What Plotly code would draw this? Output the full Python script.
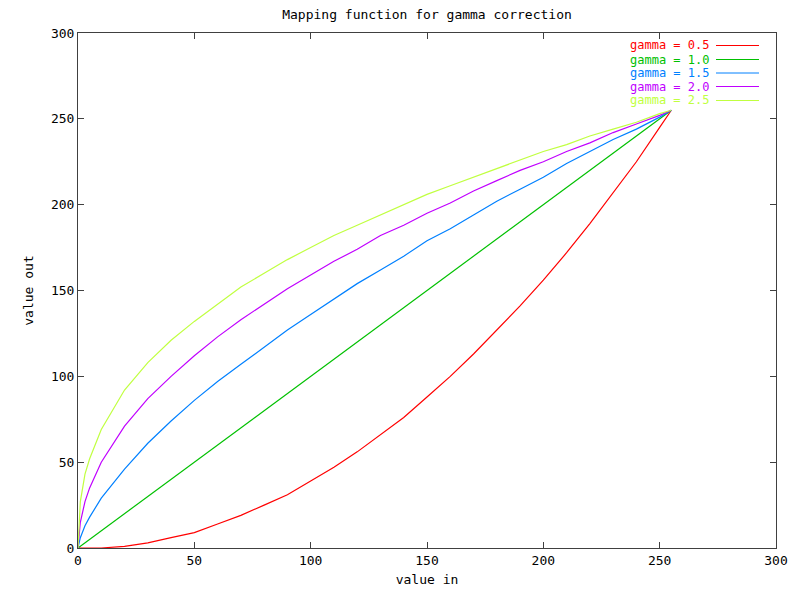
import plotly.graph_objects as go

# values (value in -> value out)
x_in = [0, 1, 3, 5, 10, 20, 30, 40, 50, 60, 70, 80, 90, 100, 110, 120, 130,
        140, 150, 160, 170, 180, 190, 200, 210, 220, 230, 240, 250, 255]

gamma_05 = [0, 0, 0, 0, 0, 1, 3, 6, 9, 14, 19, 25, 31, 39, 47, 56, 66,
            76, 88, 100, 113, 127, 141, 156, 172, 189, 207, 225, 245, 255]
gamma_10 = [0, 1, 3, 5, 10, 20, 30, 40, 50, 60, 70, 80, 90, 100, 110, 120, 130,
            140, 150, 160, 170, 180, 190, 200, 210, 220, 230, 240, 250, 255]
gamma_15 = [0, 6, 13, 18, 29, 46, 61, 74, 86, 97, 107, 117, 127, 136, 145, 154, 162,
            170, 179, 186, 194, 202, 209, 216, 224, 231, 238, 244, 251, 255]
gamma_20 = [0, 15, 27, 35, 50, 71, 87, 100, 112, 123, 133, 142, 151, 159, 167, 174, 182,
            188, 195, 201, 208, 214, 220, 225, 231, 236, 242, 247, 252, 255]
gamma_25 = [0, 27, 43, 52, 69, 92, 108, 121, 132, 142, 152, 160, 168, 175, 182, 188, 194,
            200, 206, 211, 216, 221, 226, 231, 235, 240, 244, 248, 253, 255]

series_names = ["gamma = 0.5", "gamma = 1.0", "gamma = 1.5", "gamma = 2.0", "gamma = 2.5"]
series_values = [gamma_05, gamma_10, gamma_15, gamma_20, gamma_25]
colors = ["#ff0000", "#00c000", "#0080ff", "#c000ff", "#c0ff40"]

x_ticks = [0, 50, 100, 150, 200, 250, 300]
y_ticks = [0, 50, 100, 150, 200, 250, 300]

FONT = "DejaVu Sans Mono"
FS = 13
FS_LEG = 12

fig = go.Figure()
for name, vals, col in zip(series_names, series_values, colors):
    fig.add_trace(go.Scatter(x=x_in, y=vals, mode="lines", name=name,
                             line=dict(color=col, width=1.2),
                             showlegend=False))

# the page body margin is removed below, so the figure fills the window
W, H = 793, 594
ml, mr, mt, mb = 78, 17, 33, 46
pw, ph = W - ml - mr, H - mt - mb


def px_x(p):
    return (p - ml) / pw


def px_y(p):
    return 1 - (p - mt) / ph


row_px = [45.5, 59.5, 73, 86.5, 100.5]
for name, col, ry in zip(series_names, colors, row_px):
    yp = px_y(ry)
    fig.add_annotation(x=px_x(711), y=yp, xref="paper", yref="paper",
                       text=name, showarrow=False, xanchor="right", yanchor="middle",
                       font=dict(family=FONT, size=FS_LEG, color=col))
    fig.add_shape(type="line", xref="paper", yref="paper",
                  x0=px_x(716), x1=px_x(759), y0=yp, y1=yp,
                  line=dict(color=col, width=1))

axis_common = dict(showline=True, linecolor="#404040", linewidth=1, mirror="ticks",
                   ticks="inside", ticklen=6, tickcolor="#404040", showgrid=False,
                   zeroline=False, automargin=False,
                   tickfont=dict(family=FONT, size=FS, color="black"))

fig.update_layout(
    width=W, height=H,
    margin=dict(l=ml, r=mr, t=mt, b=mb, autoexpand=False),
    paper_bgcolor="white", plot_bgcolor="white",
    title=dict(text="Mapping function for gamma correction", x=(ml + pw / 2) / W,
               xanchor="center", y=1 - 14 / H, yanchor="middle",
               font=dict(family=FONT, size=FS, color="black")),
    xaxis=dict(range=[0, 300], tickvals=x_ticks, ticktext=[str(v) for v in x_ticks],
               title=dict(text="value in", font=dict(family=FONT, size=FS, color="black"),
                          standoff=8),
               **axis_common),
    yaxis=dict(range=[0, 300], tickvals=y_ticks, ticktext=[str(v) for v in y_ticks],
               title=dict(text="value out", font=dict(family=FONT, size=FS, color="black"),
                          standoff=14),
               **axis_common),
)

fig.write_html("out.html",
               config={"displayModeBar": False},
               post_script="document.body.style.margin='0';"
                           "document.body.style.overflow='hidden';")
